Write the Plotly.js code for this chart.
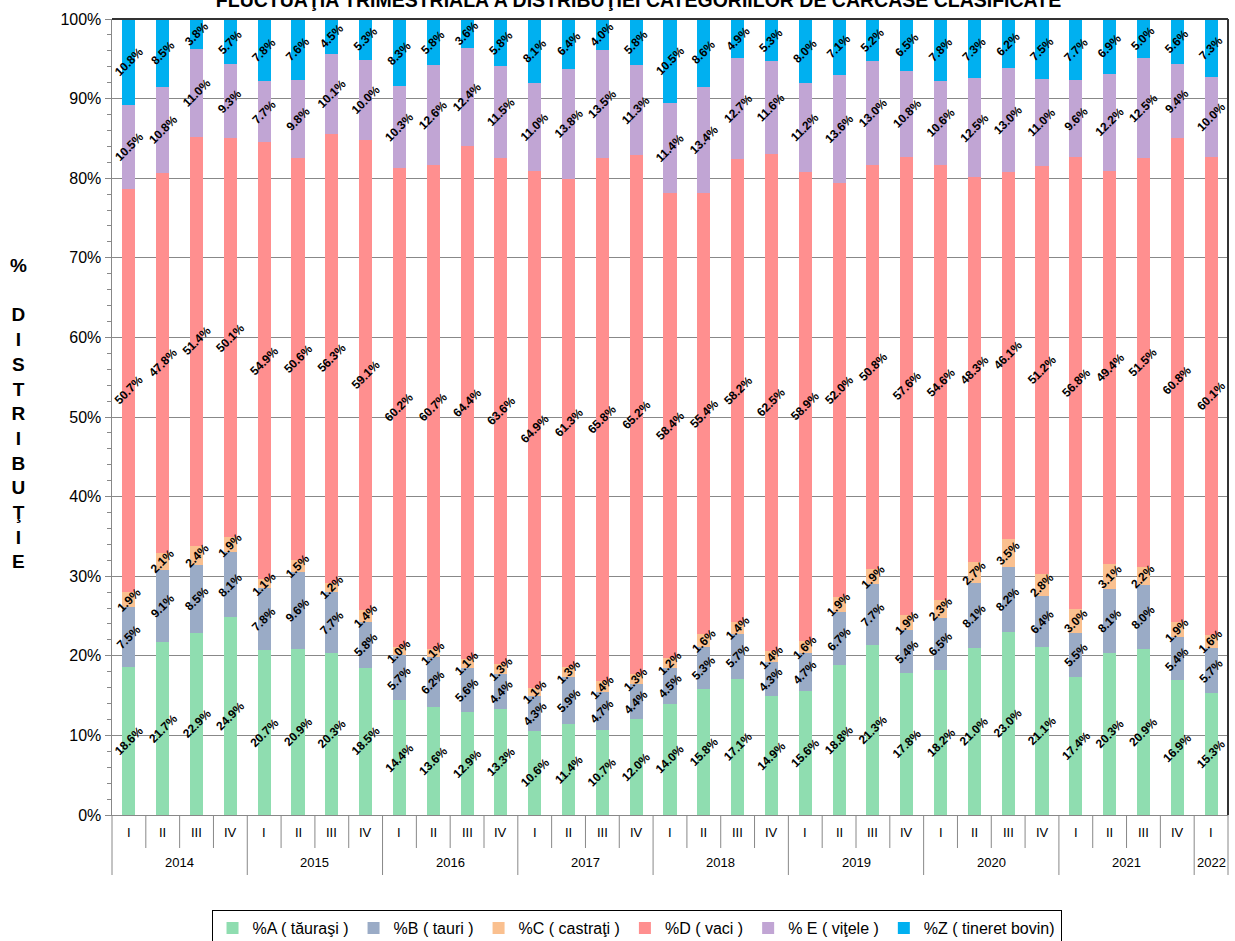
<!DOCTYPE html>
<html>
<head>
<meta charset="utf-8">
<script src="https://cdn.plot.ly/plotly-3.0.1.min.js"></script>
<style>html,body{margin:0;padding:0;background:#fff;}#chart{width:1235px;height:941px;}</style>
</head>
<body>
<div id="chart"></div>
<script>
const years =    ['2014','2014','2014','2014','2015','2015','2015','2015','2016','2016','2016','2016','2017','2017','2017','2017','2018','2018','2018','2018','2019','2019','2019','2019','2020','2020','2020','2020','2021','2021','2021','2021','2022'];
const quarters = ['I','II','III','IV','I','II','III','IV','I','II','III','IV','I','II','III','IV','I','II','III','IV','I','II','III','IV','I','II','III','IV','I','II','III','IV','I'];

const seriesA = [18.6,21.7,22.9,24.9,20.7,20.9,20.3,18.5,14.4,13.6,12.9,13.3,10.6,11.4,10.7,12.0,14.0,15.8,17.1,14.9,15.6,18.8,21.3,17.8,18.2,21.0,23.0,21.1,17.4,20.3,20.9,16.9,15.3];
const seriesB = [7.5,9.1,8.5,8.1,7.8,9.6,7.7,5.8,5.7,6.2,5.6,4.4,4.3,5.9,4.7,4.4,4.5,5.3,5.7,4.3,4.7,6.7,7.7,5.4,6.5,8.1,8.2,6.4,5.5,8.1,8.0,5.4,5.7];
const seriesC = [1.9,2.1,2.4,1.9,1.1,1.5,1.2,1.4,1.0,1.1,1.1,1.3,1.1,1.3,1.4,1.3,1.2,1.6,1.4,1.4,1.6,1.9,1.9,1.9,2.3,2.7,3.5,2.8,3.0,3.1,2.2,1.9,1.6];
const seriesD = [50.7,47.8,51.4,50.1,54.9,50.6,56.3,59.1,60.2,60.7,64.4,63.6,64.9,61.3,65.8,65.2,58.4,55.4,58.2,62.5,58.9,52.0,50.8,57.6,54.6,48.3,46.1,51.2,56.8,49.4,51.5,60.8,60.1];
const seriesE = [10.5,10.8,11.0,9.3,7.7,9.8,10.1,10.0,10.3,12.6,12.4,11.5,11.0,13.8,13.5,11.3,11.4,13.4,12.7,11.6,11.2,13.6,13.0,10.8,10.6,12.5,13.0,11.0,9.6,12.2,12.5,9.4,10.0];
const seriesZ = [10.8,8.5,3.8,5.7,7.8,7.6,4.5,5.3,8.3,5.8,3.6,5.8,8.1,6.4,4.0,5.8,10.5,8.6,4.9,5.3,8.0,7.1,5.2,6.5,7.8,7.3,6.2,7.5,7.7,6.9,5.0,5.6,7.3];

const seriesNames = ['%A ( tăuraşi )','%B ( tauri )','%C ( castraţi )','%D ( vaci )','% E ( viţele )','%Z ( tineret bovin)'];
const seriesData = [seriesA, seriesB, seriesC, seriesD, seriesE, seriesZ];
const seriesColors = ['#8FDDB0','#9AABC6','#FAC08F','#FF8F8F','#C1A5D4','#00B0F0'];

const titleText = 'FLUCTUAŢIA TRIMESTRIALĂ A DISTRIBUŢIEI CATEGORIILOR DE CARCASE CLASIFICATE';
const yTitleLetters = ['%','','D','I','S','T','R','I','B','U','Ţ','I','E'];

const n = quarters.length;
const FONT = 'Liberation Sans, Arial, sans-serif';
const PH = 796; // plot height in px

const traces = seriesData.map((vals, i) => ({
  type: 'bar',
  name: seriesNames[i],
  x: [years, quarters],
  y: vals,
  marker: {color: seriesColors[i], line: {width: 0}},
  hoverinfo: 'name+y'
}));

const annotations = [];
// data labels on top of all bars, centred in each stacked segment
const cum = new Array(n).fill(0);
seriesData.forEach(vals => {
  vals.forEach((v, i) => {
    annotations.push({
      xref: 'paper', yref: 'y',
      x: (i + 0.5) / n, y: cum[i] + v / 2,
      text: '<b>' + v.toFixed(1) + '%</b>',
      textangle: -45, showarrow: false,
      xanchor: 'center', yanchor: 'middle',
      font: {family: FONT, size: 12, color: '#000'}
    });
    cum[i] += v;
  });
});

// quarter labels
quarters.forEach((q, i) => {
  annotations.push({
    xref: 'paper', yref: 'paper',
    x: (i + 0.5) / n, y: -17 / PH,
    text: q, showarrow: false,
    xanchor: 'center', yanchor: 'middle',
    font: {family: FONT, size: 13, color: '#000'}
  });
});

// year labels and separators
const shapes = [];
let start = 0;
for (let i = 1; i <= n; i++) {
  if (i === n || years[i] !== years[i - 1]) {
    annotations.push({
      xref: 'paper', yref: 'paper',
      x: (start + i) / 2 / n, y: -47 / PH,
      text: years[start], showarrow: false,
      xanchor: 'center', yanchor: 'middle',
      font: {family: FONT, size: 13, color: '#000'}
    });
    start = i;
  }
}
for (let i = 0; i <= n; i++) {
  const isYear = (i === 0 || i === n || years[i] !== years[i - 1]);
  shapes.push({
    type: 'line', xref: 'paper', yref: 'paper',
    x0: i / n, x1: i / n, y0: 0, y1: isYear ? -60 / PH : -33 / PH,
    line: {color: '#888', width: 1}
  });
}
shapes.push({type: 'line', xref: 'paper', yref: 'paper', x0: 0, x1: 1, y0: 1, y1: 1, line: {color: '#333', width: 2}});
shapes.push({type: 'line', xref: 'paper', yref: 'paper', x0: 1, x1: 1, y0: 0, y1: 1, line: {color: '#333', width: 2}});

// vertical y-axis title
annotations.push({
  xref: 'paper', yref: 'paper',
  x: -94 / 1116, y: (815 - 413) / PH, xanchor: 'center', yanchor: 'middle',
  text: '<b>' + yTitleLetters.join('<br>') + '</b>',
  showarrow: false,
  font: {family: FONT, size: 19, color: '#000'},
  align: 'center'
});

const layout = {
  width: 1235, height: 941,
  font: {family: FONT, color: '#000'},
  paper_bgcolor: '#fff', plot_bgcolor: '#fff',
  margin: {l: 112, r: 7, t: 19, b: 126, autoexpand: false},
  barmode: 'stack',
  bargap: 0.615,
  showlegend: true,
  title: {
    text: '<b>' + titleText + '</b>',
    font: {size: 19.5, color: '#000'},
    x: 0.517, xanchor: 'center',
    yref: 'container', y: 1.0, yanchor: 'middle',
    automargin: false
  },
  xaxis: {
    type: 'multicategory',
    automargin: false,
    showline: true, linecolor: '#888', linewidth: 1,
    ticks: '', showdividers: false, showticklabels: false,
    showgrid: false
  },
  yaxis: {
    automargin: false,
    range: [0, 100], dtick: 10, ticksuffix: '%',
    showgrid: true, gridcolor: '#888', gridwidth: 1,
    showline: true, linecolor: '#888', linewidth: 1.5,
    ticks: 'outside', ticklen: 6, tickcolor: '#888',
    minor: {dtick: 2, ticks: 'outside', ticklen: 4, tickcolor: '#888', showgrid: false},
    tickfont: {size: 16, color: '#000'},
    zeroline: false
  },
  legend: {
    orientation: 'h',
    x: 0.47, xanchor: 'center',
    y: -95 / PH, yanchor: 'top',
    bordercolor: '#000', borderwidth: 1,
    font: {size: 16, color: '#000'},
    traceorder: 'normal'
  },
  shapes: shapes,
  annotations: annotations
};

Plotly.newPlot('chart', traces, layout, {displayModeBar: false, staticPlot: true});
</script>
</body>
</html>
